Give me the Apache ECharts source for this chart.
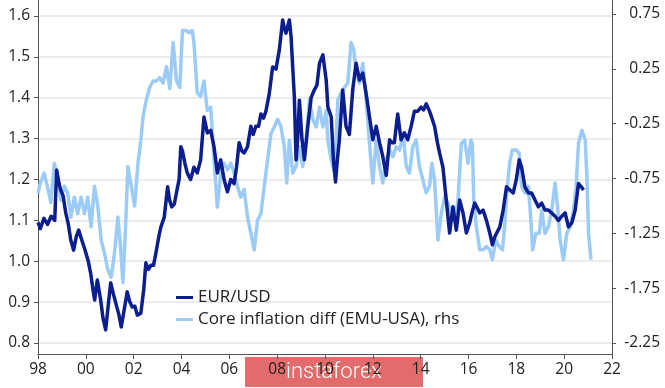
<!DOCTYPE html>
<html>
<head>
<meta charset="utf-8">
<script src="https://cdn.jsdelivr.net/npm/echarts@6/dist/echarts.min.js"></script>
<style>html,body{margin:0;padding:0;background:#fff;}#c{width:665px;height:388px;}</style>
</head>
<body>
<div id="c"></div>
<script>
// ---- data ----
const eurYears = [1998.00,1998.10,1998.25,1998.40,1998.55,1998.70,1998.78,1998.88,1998.95,1999.05,1999.16,1999.27,1999.37,1999.49,1999.60,1999.70,1999.83,1999.97,2000.10,2000.20,2000.30,2000.37,2000.48,2000.62,2000.72,2000.83,2000.95,2001.04,2001.15,2001.25,2001.38,2001.48,2001.60,2001.73,2001.84,2001.94,2002.05,2002.15,2002.30,2002.42,2002.51,2002.62,2002.72,2002.83,2002.93,2003.05,2003.14,2003.28,2003.42,2003.50,2003.59,2003.70,2003.81,2003.90,2003.97,2004.04,2004.14,2004.24,2004.38,2004.52,2004.66,2004.80,2004.94,2005.08,2005.22,2005.36,2005.50,2005.64,2005.78,2005.92,2006.06,2006.20,2006.30,2006.41,2006.52,2006.62,2006.76,2006.90,2007.00,2007.11,2007.22,2007.32,2007.43,2007.53,2007.67,2007.81,2007.95,2008.09,2008.23,2008.30,2008.37,2008.51,2008.58,2008.65,2008.72,2008.79,2008.86,2008.93,2009.04,2009.14,2009.28,2009.42,2009.56,2009.66,2009.77,2009.91,2009.98,2010.05,2010.12,2010.26,2010.35,2010.44,2010.52,2010.60,2010.74,2010.88,2011.02,2011.16,2011.30,2011.44,2011.58,2011.72,2011.86,2012.00,2012.14,2012.28,2012.42,2012.56,2012.70,2012.80,2012.90,2013.04,2013.18,2013.32,2013.46,2013.60,2013.74,2013.88,2014.02,2014.12,2014.23,2014.37,2014.47,2014.58,2014.70,2014.79,2014.93,2015.07,2015.21,2015.35,2015.49,2015.56,2015.63,2015.77,2015.91,2016.05,2016.15,2016.26,2016.37,2016.47,2016.61,2016.75,2016.89,2017.00,2017.10,2017.17,2017.31,2017.45,2017.59,2017.73,2017.87,2018.00,2018.12,2018.22,2018.36,2018.50,2018.64,2018.78,2018.92,2019.06,2019.20,2019.34,2019.48,2019.62,2019.76,2019.90,2020.04,2020.18,2020.32,2020.46,2020.60,2020.67,2020.74,2020.81];
const eurValues = [1.095,1.08,1.105,1.09,1.11,1.10,1.223,1.19,1.174,1.16,1.118,1.09,1.052,1.027,1.06,1.076,1.052,1.027,1.00,0.971,0.93,0.905,0.954,0.905,0.86,0.832,0.90,0.947,0.92,0.898,0.87,0.839,0.88,0.925,0.90,0.888,0.89,0.868,0.873,0.93,0.996,0.98,0.99,0.99,1.02,1.06,1.084,1.108,1.182,1.15,1.133,1.14,1.174,1.20,1.28,1.27,1.24,1.216,1.20,1.23,1.216,1.248,1.353,1.314,1.32,1.28,1.216,1.248,1.20,1.17,1.20,1.19,1.23,1.29,1.27,1.265,1.28,1.33,1.31,1.33,1.33,1.36,1.35,1.367,1.41,1.475,1.47,1.517,1.59,1.57,1.558,1.59,1.55,1.475,1.40,1.248,1.30,1.394,1.297,1.248,1.33,1.40,1.42,1.43,1.484,1.505,1.508,1.443,1.377,1.353,1.25,1.194,1.25,1.297,1.419,1.33,1.31,1.42,1.484,1.443,1.46,1.41,1.353,1.297,1.33,1.29,1.255,1.21,1.297,1.29,1.29,1.36,1.297,1.314,1.297,1.33,1.367,1.367,1.377,1.37,1.385,1.367,1.35,1.33,1.29,1.265,1.23,1.15,1.069,1.133,1.076,1.11,1.15,1.118,1.069,1.094,1.12,1.142,1.13,1.118,1.125,1.10,1.069,1.04,1.06,1.06,1.084,1.125,1.182,1.174,1.167,1.20,1.248,1.23,1.182,1.167,1.167,1.15,1.133,1.142,1.125,1.125,1.118,1.11,1.10,1.11,1.118,1.084,1.094,1.125,1.19,1.194,1.18,1.174];

const coreYears = [1998.00,1998.10,1998.26,1998.40,1998.54,1998.68,1998.82,1998.96,1999.10,1999.24,1999.38,1999.52,1999.66,1999.80,1999.94,2000.08,2000.22,2000.36,2000.50,2000.64,2000.78,2000.92,2001.06,2001.20,2001.34,2001.45,2001.55,2001.65,2001.76,2001.90,2002.04,2002.18,2002.30,2002.39,2002.53,2002.67,2002.81,2002.95,2003.09,2003.23,2003.37,2003.51,2003.65,2003.79,2003.93,2004.04,2004.18,2004.32,2004.45,2004.52,2004.66,2004.80,2004.94,2005.08,2005.22,2005.36,2005.50,2005.64,2005.78,2005.92,2006.06,2006.20,2006.34,2006.48,2006.62,2006.76,2006.90,2007.04,2007.18,2007.32,2007.46,2007.60,2007.74,2007.88,2008.02,2008.16,2008.30,2008.40,2008.51,2008.65,2008.79,2008.93,2009.07,2009.21,2009.35,2009.49,2009.63,2009.77,2009.91,2010.05,2010.12,2010.26,2010.40,2010.54,2010.67,2010.81,2010.95,2011.09,2011.20,2011.30,2011.44,2011.58,2011.72,2011.86,2012.00,2012.14,2012.28,2012.42,2012.56,2012.70,2012.84,2012.98,2013.12,2013.26,2013.40,2013.53,2013.67,2013.81,2013.95,2014.09,2014.23,2014.37,2014.47,2014.58,2014.72,2014.86,2015.00,2015.14,2015.28,2015.42,2015.56,2015.70,2015.84,2015.98,2016.10,2016.16,2016.22,2016.33,2016.47,2016.61,2016.75,2016.89,2017.00,2017.14,2017.28,2017.42,2017.51,2017.61,2017.72,2017.83,2018.00,2018.12,2018.22,2018.36,2018.50,2018.60,2018.68,2018.82,2018.96,2019.06,2019.20,2019.34,2019.48,2019.62,2019.72,2019.83,2019.97,2020.11,2020.25,2020.39,2020.50,2020.60,2020.74,2020.88,2020.95,2021.02,2021.12];
const coreValues = [-0.88,-0.79,-0.70,-0.83,-0.97,-0.61,-0.76,-0.95,-0.82,-0.88,-1.10,-0.92,-1.07,-0.92,-1.07,-0.92,-1.19,-0.82,-1.00,-1.31,-1.43,-1.58,-1.65,-1.43,-1.10,-1.37,-1.70,-1.25,-0.64,-0.82,-1.00,-0.61,-0.40,-0.19,-0.03,0.08,0.14,0.14,0.17,0.12,0.27,0.07,0.49,0.14,0.08,0.60,0.60,0.58,0.60,0.49,0.03,0.00,0.14,-0.13,-0.10,-0.58,-1.01,-0.70,-0.61,-0.67,-0.61,-0.70,-0.82,-0.92,-0.85,-1.10,-1.25,-1.40,-1.13,-1.07,-0.82,-0.58,-0.34,-0.28,-0.21,-0.28,-0.46,-0.79,-0.40,-0.70,-0.64,-0.46,-0.64,-0.40,-0.03,-0.21,-0.28,-0.10,-0.28,-0.13,-0.40,-0.58,-0.70,-0.03,0.03,0.08,0.12,0.49,0.43,0.21,0.12,0.30,-0.03,-0.43,-0.79,-0.40,-0.64,-0.79,-0.58,-0.49,-0.55,-0.46,-0.49,-0.34,-0.64,-0.70,-0.46,-0.40,-0.64,-0.76,-0.88,-0.82,-0.61,-0.76,-1.31,-1.07,-0.92,-0.97,-1.07,-1.13,-0.95,-0.43,-0.40,-0.61,-0.40,-0.43,-0.95,-1.19,-1.40,-1.40,-1.37,-1.40,-1.49,-1.31,-1.37,-1.40,-1.19,-0.85,-0.61,-0.49,-0.49,-0.52,-0.82,-0.88,-0.82,-1.10,-1.40,-1.25,-1.25,-1.04,-1.25,-1.19,-1.04,-0.79,-1.00,-1.31,-1.49,-1.25,-1.19,-1.04,-0.82,-0.43,-0.31,-0.40,-0.73,-1.25,-1.49];

const leftTicks = [0.8,0.9,1.0,1.1,1.2,1.3,1.4,1.5,1.6];
const rightTicks = [-2.25,-1.75,-1.25,-0.75,-0.25,0.25,0.75];
const seriesNames = ['EUR/USD','Core inflation diff (EMU-USA), rhs'];

// ---- chart ----
const FONT = '"Open Sans", sans-serif';
const chart = echarts.init(document.getElementById('c'), null, {renderer:'canvas'});
const pairs = (xs, ys) => xs.map((x,i)=>[x, ys[i]]);

chart.setOption({
  animation: false,
  backgroundColor: '#ffffff',
  grid: {left: 38, right: 53, top: 0, bottom: 34, containLabel: false},
  legend: {
    data: seriesNames,
    orient: 'vertical',
    left: 171, top: 284,
    icon: 'rect', itemWidth: 17, itemHeight: 3, itemGap: 5,
    textStyle: {fontFamily: FONT, fontSize: 17, color: '#222'}
  },
  xAxis: {
    type: 'value', min: 1998, max: 2022, interval: 2,
    axisLine: {show: true, onZero: false, lineStyle: {color: '#555', width: 1}},
    axisTick: {show: true, length: 5, lineStyle: {color: '#555'}},
    splitLine: {show: false},
    axisLabel: {
      margin: 8, fontFamily: FONT, fontSize: 15.5, color: '#222',
      formatter: v => String(Math.round(v) % 100).padStart(2,'0')
    }
  },
  yAxis: [
    {
      type: 'value', position: 'left', min: 0.773, max: 1.639,
      axisLine: {show: true, onZero: false, lineStyle: {color: '#555', width: 1}},
      axisTick: {show: true, length: 4, inside: false, lineStyle: {color: '#555'}, customValues: leftTicks},
      axisLabel: {margin: 8, fontFamily: FONT, fontSize: 15.5, color: '#222', customValues: leftTicks,
        formatter: v => v.toFixed(1)},
      splitLine: {show: true, lineStyle: {color: '#e6e6e6', width: 1.5}}
    },
    {
      type: 'value', position: 'right', min: -2.35, max: 0.878,
      axisLine: {show: true, onZero: false, lineStyle: {color: '#555', width: 1}},
      axisTick: {show: true, length: 4, lineStyle: {color: '#555'}, customValues: rightTicks},
      axisLabel: {margin: 48, align: 'right', fontFamily: FONT, fontSize: 15.5, color: '#222', customValues: rightTicks,
        formatter: v => v.toFixed(2)},
      splitLine: {show: false}
    }
  ],
  series: [
    {
      name: seriesNames[0], type: 'line', yAxisIndex: 0, z: 3,
      data: pairs(eurYears, eurValues), showSymbol: false, symbol: 'none',
      itemStyle: {color: '#0b1d8f'},
      lineStyle: {color: '#0b1d8f', width: 3.5, join: 'round'}
    },
    {
      name: seriesNames[1], type: 'line', yAxisIndex: 1, z: 2,
      data: pairs(coreYears, coreValues), showSymbol: false, symbol: 'none',
      itemStyle: {color: '#9ccbf6'},
      lineStyle: {color: '#9ccbf6', width: 3.5, join: 'round'}
    }
  ],
  graphic: [{
    type: 'group', left: 245, top: 357, z: 100,
    children: [
      {type: 'rect', shape: {x: 0, y: 0, width: 178, height: 30}, style: {fill: '#e46b6c'}},
      {type: 'text', x: 89, y: 15, style: {text: 'instaforex', fill: '#ffffff', font: '300 22px Roboto, sans-serif', align: 'center', verticalAlign: 'middle'}}
    ]
  }]
});
</script>
</body>
</html>
